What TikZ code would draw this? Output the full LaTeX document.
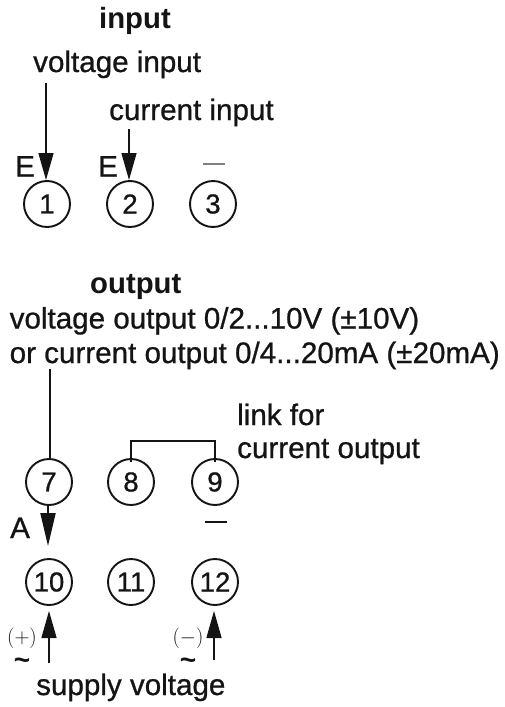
\documentclass[tikz,border=0pt]{standalone}
\usepackage{fontspec}
\setmainfont{Liberation Sans}
\newfontfamily\heavy[FakeBold=0.8]{Liberation Sans}
\usetikzlibrary{arrows.meta}
\tikzset{
  lbl/.style={inner sep=0pt,anchor=base west,text=black!92},
  term/.style={circle,draw=black!92,line width=1.9pt,minimum size=46pt,inner sep=0pt,font=\heavy\fontsize{27.5}{27.5}\selectfont,text=black!92},
  feed/.style={line width=1.3pt,draw=black!92,-{Triangle[length=27pt,width=15pt]}},
  wire/.style={line width=2.4pt,draw=black!92}
}
\newcommand{\lab}[1]{\heavy\fontsize{#1}{#1}\selectfont}
\begin{document}
\begin{tikzpicture}[x=1pt,y=-1pt]
\useasboundingbox (0,0) rectangle (505,707);
\fill[white] (0,0) rectangle (505,707);
\node[lbl,font=\fontsize{29.3}{29.3}\selectfont\bfseries] (tin) at (99,28) {input};
\node[lbl,font=\lab{29.6}] (tv) at (33,72) {voltage input};
\node[lbl,font=\lab{29.6}] (tc) at (109,120) {current input};
\node[lbl,font=\lab{29.6}] (e1) at (15,176.5) {E};
\node[lbl,font=\lab{29.6}] (e2) at (98,176.5) {E};
\node[term] (n1) at (47,204) {1};
\node[term] (n2) at (130,204) {2};
\node[term] (n3) at (213,204) {3};
\coordinate (a1) at (46,83);
\coordinate (a1e) at (46,180);
\coordinate (a2) at (129,129);
\coordinate (a2e) at (129,180);
\draw[feed] (a1) -- (a1e);
\draw[feed] (a2) -- (a2e);
\coordinate (d3a) at (203,164);
\coordinate (d3b) at (225,164);
\draw[line width=1.2pt,draw=black!50] (d3a) -- (d3b);
\node[lbl,font=\fontsize{29.3}{29.3}\selectfont\bfseries] (tout) at (90,293) {output};
\node[lbl,font=\lab{29.6}] (to1) at (9.5,328.5) {voltage output 0/2...10V (±10V)};
\node[lbl,font=\lab{29.6}] (to2) at (9.5,363) {or current output 0/4...20mA (±20mA)};
\node[lbl,font=\lab{29.6}] (tl1) at (237,425) {link for};
\node[lbl,font=\lab{29.6}] (tl2) at (237,458) {current output};
\node[term] (n7) at (49,482) {7};
\node[term] (n8) at (131,482) {8};
\node[term] (n9) at (215,482) {9};
\node[term] (n10) at (49,582) {10};
\node[term] (n11) at (131,582) {11};
\node[term] (n12) at (215,582) {12};
\coordinate (w7) at (50,369);
\draw[wire] (w7) -- (n7.north -| w7);
\draw[wire] ([yshift=-4pt]n8.north) |- (n8.north |- 0,441) -| ([yshift=-4pt]n9.north);
\coordinate (a7e) at (48,546);
\draw[feed,line width=2pt,-{Triangle[length=33pt,width=15pt]}] (n7.south -| a7e) -- (a7e);
\node[lbl,font=\lab{29.6}] (ta) at (10,538) {A};
\coordinate (d9a) at (205,522);
\coordinate (d9b) at (227,522);
\draw[line width=2.2pt,draw=black!92] (d9a) -- (d9b);
\coordinate (a10) at (49,663);
\coordinate (a10e) at (49,611);
\coordinate (a12) at (214,660);
\coordinate (a12e) at (214,611);
\draw[feed] (a10) -- (a10e);
\draw[feed] (a12) -- (a12e);
\node[lbl,font=\fontsize{21.5}{21.5}\selectfont,anchor=center] (pp) at (22,638) {$(+)$};
\node[lbl,font=\fontsize{21.5}{21.5}\selectfont,anchor=center] (pm) at (188,638) {$(-)$};
\node[lbl,font=\fontsize{28}{28}\selectfont\bfseries,anchor=base] (t1) at (22,669) {\smash{\char"007E}};
\node[lbl,font=\fontsize{28}{28}\selectfont\bfseries,anchor=base] (t2) at (188,669) {\smash{\char"007E}};
\node[lbl,font=\lab{29.6}] (ts) at (36,695) {supply voltage};
\end{tikzpicture}
\end{document}
